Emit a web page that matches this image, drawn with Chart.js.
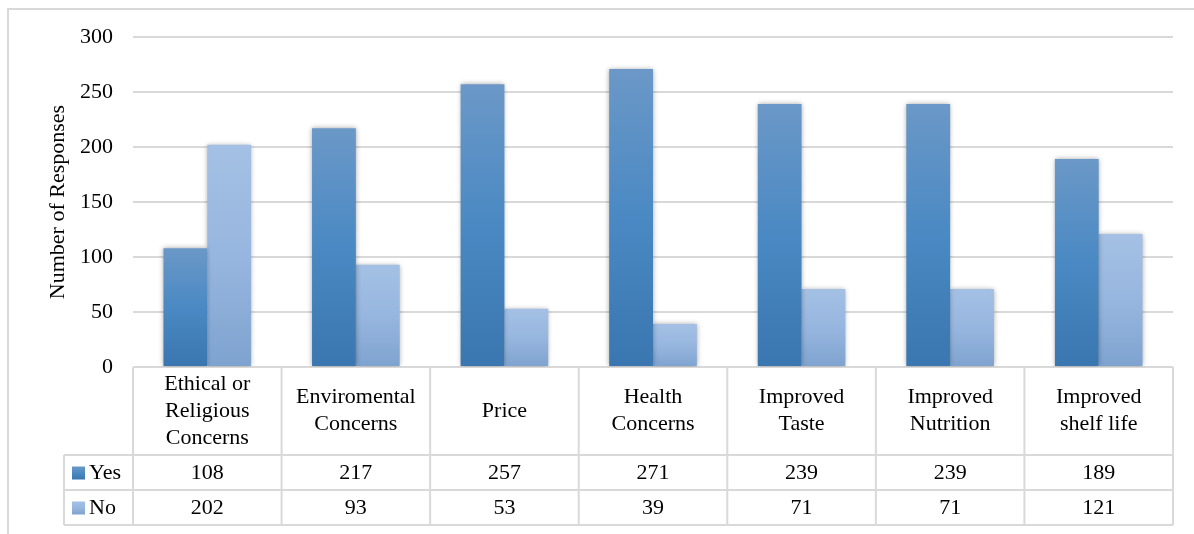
<!DOCTYPE html>
<html>
<head>
<meta charset="utf-8">
<script src="https://cdn.jsdelivr.net/npm/chart.js@4"></script>
<style>
  html, body { margin: 0; padding: 0; background: #fff; }
  #wrap { width: 1194px; height: 534px; position: relative; }
</style>
</head>
<body>
<div id="wrap"><canvas id="responsesChart"></canvas></div>
<script>
// chart data
const categories = [
  ['Ethical or', 'Religious', 'Concerns'],
  ['Enviromental', 'Concerns'],
  ['Price'],
  ['Health', 'Concerns'],
  ['Improved', 'Taste'],
  ['Improved', 'Nutrition'],
  ['Improved', 'shelf life']
];
const yesValues = [108, 217, 257, 271, 239, 239, 189];
const noValues = [202, 93, 53, 39, 71, 71, 121];
const yTicks = [0, 50, 100, 150, 200, 250, 300];

const FONT = '"Liberation Serif", "Times New Roman", serif';
const GRID = '#d9d9d9';
const TEXT_SIZE = 22;

function barGradient(ctx, top, bottom, colors) {
  const g = ctx.createLinearGradient(0, top, 0, bottom);
  g.addColorStop(0, colors[0]);
  g.addColorStop(0.5, colors[1]);
  g.addColorStop(1, colors[2]);
  return g;
}

const yesColors = ['#6b98c7', '#4a89c3', '#3a76b0'];
const noColors = ['#a4c0e4', '#97b6df', '#7ea3cf'];

function scriptedFill(colors) {
  return function (context) {
    const chart = context.chart;
    const { ctx, chartArea, scales } = chart;
    if (!chartArea || context.parsed == null) return colors[1];
    const top = scales.y.getPixelForValue(context.parsed.y);
    const bottom = scales.y.getPixelForValue(0);
    if (!isFinite(top) || top === bottom) return colors[1];
    return barGradient(ctx, top, bottom, colors);
  };
}

// soft shadow behind the bars
const barShadow = {
  id: 'barShadow',
  beforeDatasetsDraw(chart) {
    const ctx = chart.ctx;
    ctx.save();
    ctx.shadowColor = 'rgba(0,0,0,0.35)';
    ctx.shadowBlur = 5;
  },
  afterDatasetsDraw(chart) {
    chart.ctx.restore();
  }
};

// outer frame + data table under the plot
const dataTable = {
  id: 'dataTable',
  afterDraw(chart) {
    const ctx = chart.ctx;
    const x = chart.scales.x;
    const area = chart.chartArea;
    const left = area.left, right = area.right;
    const axisY = area.bottom;
    const rowLabelBottom = axisY + 88;
    const rowH = 35;
    const legendLeft = 64;
    const step = (right - left) / categories.length;

    ctx.save();
    ctx.strokeStyle = GRID;
    ctx.lineWidth = 2;

    // outer chart border
    ctx.beginPath();
    ctx.moveTo(8, 540);
    ctx.lineTo(8, 9);
    ctx.lineTo(1200, 9);
    ctx.stroke();

    ctx.beginPath();
    for (let k = 0; k <= 2; k++) {
      ctx.moveTo(legendLeft, rowLabelBottom + k * rowH);
      ctx.lineTo(right, rowLabelBottom + k * rowH);
    }
    ctx.moveTo(legendLeft, rowLabelBottom); ctx.lineTo(legendLeft, rowLabelBottom + 2 * rowH);
    for (let i = 0; i <= categories.length; i++) {
      const cx = left + i * step;
      ctx.moveTo(cx, axisY); ctx.lineTo(cx, rowLabelBottom + 2 * rowH);
    }
    ctx.stroke();

    ctx.fillStyle = '#000';
    ctx.font = TEXT_SIZE + 'px ' + FONT;
    ctx.textAlign = 'center';
    ctx.textBaseline = 'middle';
    const lineH = 27;
    const labelMid = (axisY + rowLabelBottom) / 2;
    categories.forEach((lines, i) => {
      const cx = x.getPixelForValue(i);
      const start = labelMid - (lines.length - 1) * lineH / 2;
      lines.forEach((t, j) => ctx.fillText(t, cx, start + j * lineH));
      ctx.fillText(String(yesValues[i]), cx, rowLabelBottom + rowH / 2 + 1);
      ctx.fillText(String(noValues[i]), cx, rowLabelBottom + rowH * 1.5 + 1);
    });

    // legend keys
    const rows = [['Yes', yesColors], ['No', noColors]];
    rows.forEach((r, k) => {
      const cy = rowLabelBottom + rowH * (k + 0.5);
      ctx.fillStyle = barGradient(ctx, cy - 6, cy + 7, r[1]);
      ctx.fillRect(72, cy - 6, 13, 13);
      ctx.fillStyle = '#000';
      ctx.textAlign = 'left';
      ctx.fillText(r[0], 89, cy + 1);
    });
    ctx.restore();
  }
};

const ctx = document.getElementById('responsesChart').getContext('2d');
const responsesChart = new Chart(ctx, {
  type: 'bar',
  data: {
    labels: categories.map(c => c.join(' ')),
    datasets: [
      {
        label: 'Yes',
        data: yesValues,
        backgroundColor: scriptedFill(yesColors),
        borderWidth: 0,
        categoryPercentage: 0.59,
        barPercentage: 1.0
      },
      {
        label: 'No',
        data: noValues,
        backgroundColor: scriptedFill(noColors),
        borderWidth: 0,
        categoryPercentage: 0.59,
        barPercentage: 1.0
      }
    ]
  },
  options: {
    responsive: true,
    maintainAspectRatio: false,
    animation: false,
    layout: {
      padding: { left: 8, right: 21, top: 37, bottom: 167 }
    },
    plugins: {
      legend: { display: false },
      tooltip: { enabled: false }
    },
    scales: {
      x: {
        display: false,
        offset: true
      },
      y: {
        min: 0,
        max: 300,
        afterBuildTicks(scale) {
          scale.ticks = yTicks.map(v => ({ value: v }));
        },
        afterFit(scale) {
          scale.width = 125;
        },
        border: { display: false },
        grid: {
          color: GRID,
          lineWidth: 2,
          drawTicks: false
        },
        ticks: {
          color: '#000',
          padding: 20,
          font: { family: FONT, size: TEXT_SIZE }
        },
        title: {
          display: true,
          text: 'Number of Responses',
          color: '#000',
          font: { family: FONT, size: TEXT_SIZE },
          padding: { top: 37, bottom: 0 }
        }
      }
    }
  },
  plugins: [barShadow, dataTable]
});
</script>
</body>
</html>
